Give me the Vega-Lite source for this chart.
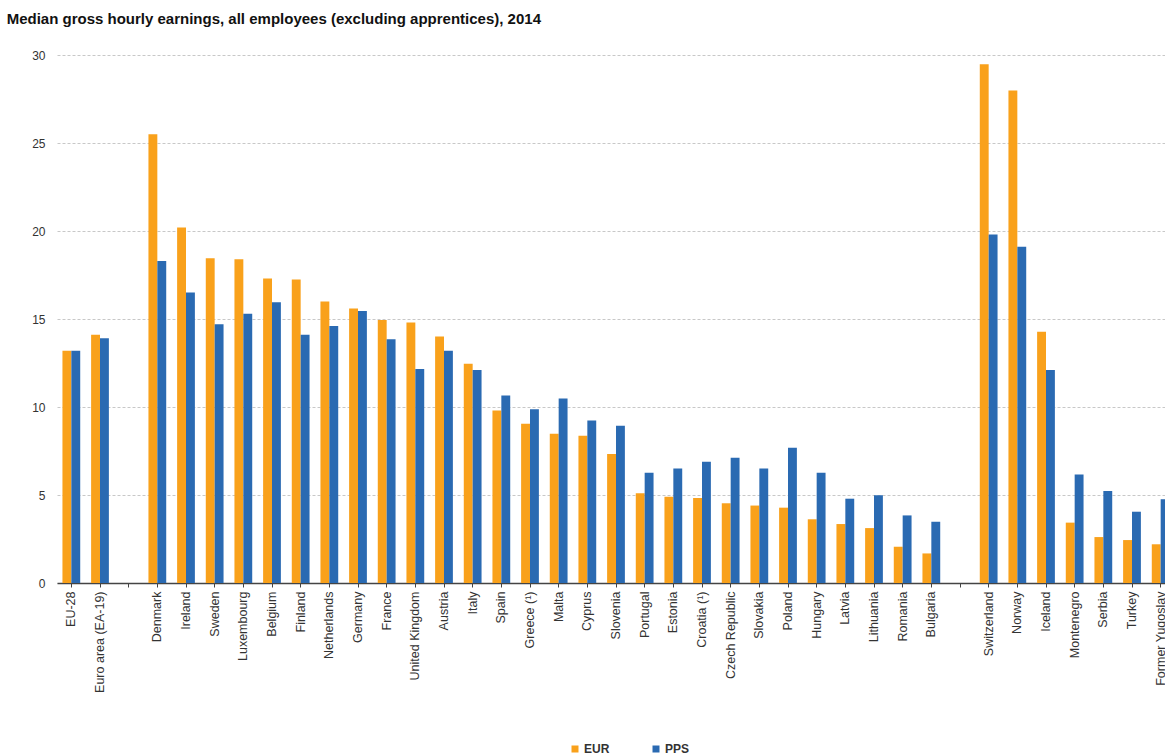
{
  "$schema": "https://vega.github.io/schema/vega-lite/v6.json",
  "autosize": {"type": "none"},
  "width": 1118,
  "height": 528,
  "padding": {"left": 57, "top": 55, "right": -10, "bottom": 170},
  "background": "white",
  "title": {
    "text": "Median gross hourly earnings, all employees (excluding apprentices), 2014",
    "anchor": "start",
    "dx": -25,
    "offset": 22,
    "font": "Liberation Sans",
    "fontSize": 15,
    "fontWeight": "bold",
    "color": "#111111"
  },
  "data": {
    "values": [
      {"country": "EU-28", "series": "EUR", "value": 13.2},
      {"country": "EU-28", "series": "PPS", "value": 13.2},
      {"country": "Euro area (EA-19)", "series": "EUR", "value": 14.1},
      {"country": "Euro area (EA-19)", "series": "PPS", "value": 13.9},
      {"country": "Denmark", "series": "EUR", "value": 25.5},
      {"country": "Denmark", "series": "PPS", "value": 18.3},
      {"country": "Ireland", "series": "EUR", "value": 20.2},
      {"country": "Ireland", "series": "PPS", "value": 16.5},
      {"country": "Sweden", "series": "EUR", "value": 18.45},
      {"country": "Sweden", "series": "PPS", "value": 14.7},
      {"country": "Luxembourg", "series": "EUR", "value": 18.4},
      {"country": "Luxembourg", "series": "PPS", "value": 15.3},
      {"country": "Belgium", "series": "EUR", "value": 17.3},
      {"country": "Belgium", "series": "PPS", "value": 15.95},
      {"country": "Finland", "series": "EUR", "value": 17.25},
      {"country": "Finland", "series": "PPS", "value": 14.1},
      {"country": "Netherlands", "series": "EUR", "value": 16.0},
      {"country": "Netherlands", "series": "PPS", "value": 14.6},
      {"country": "Germany", "series": "EUR", "value": 15.6},
      {"country": "Germany", "series": "PPS", "value": 15.45},
      {"country": "France", "series": "EUR", "value": 14.95},
      {"country": "France", "series": "PPS", "value": 13.85},
      {"country": "United Kingdom", "series": "EUR", "value": 14.8},
      {"country": "United Kingdom", "series": "PPS", "value": 12.16},
      {"country": "Austria", "series": "EUR", "value": 14.0},
      {"country": "Austria", "series": "PPS", "value": 13.2},
      {"country": "Italy", "series": "EUR", "value": 12.46},
      {"country": "Italy", "series": "PPS", "value": 12.1},
      {"country": "Spain", "series": "EUR", "value": 9.8},
      {"country": "Spain", "series": "PPS", "value": 10.66},
      {"country": "Greece (¹)", "series": "EUR", "value": 9.05},
      {"country": "Greece (¹)", "series": "PPS", "value": 9.87},
      {"country": "Malta", "series": "EUR", "value": 8.48},
      {"country": "Malta", "series": "PPS", "value": 10.49},
      {"country": "Cyprus", "series": "EUR", "value": 8.37},
      {"country": "Cyprus", "series": "PPS", "value": 9.24},
      {"country": "Slovenia", "series": "EUR", "value": 7.33},
      {"country": "Slovenia", "series": "PPS", "value": 8.94},
      {"country": "Portugal", "series": "EUR", "value": 5.1},
      {"country": "Portugal", "series": "PPS", "value": 6.27},
      {"country": "Estonia", "series": "EUR", "value": 4.9},
      {"country": "Estonia", "series": "PPS", "value": 6.51},
      {"country": "Croatia (¹)", "series": "EUR", "value": 4.83},
      {"country": "Croatia (¹)", "series": "PPS", "value": 6.89},
      {"country": "Czech Republic", "series": "EUR", "value": 4.53},
      {"country": "Czech Republic", "series": "PPS", "value": 7.12},
      {"country": "Slovakia", "series": "EUR", "value": 4.4},
      {"country": "Slovakia", "series": "PPS", "value": 6.51},
      {"country": "Poland", "series": "EUR", "value": 4.28},
      {"country": "Poland", "series": "PPS", "value": 7.69},
      {"country": "Hungary", "series": "EUR", "value": 3.62},
      {"country": "Hungary", "series": "PPS", "value": 6.27},
      {"country": "Latvia", "series": "EUR", "value": 3.35},
      {"country": "Latvia", "series": "PPS", "value": 4.79},
      {"country": "Lithuania", "series": "EUR", "value": 3.12},
      {"country": "Lithuania", "series": "PPS", "value": 4.98},
      {"country": "Romania", "series": "EUR", "value": 2.06},
      {"country": "Romania", "series": "PPS", "value": 3.84},
      {"country": "Bulgaria", "series": "EUR", "value": 1.68},
      {"country": "Bulgaria", "series": "PPS", "value": 3.48},
      {"country": "Switzerland", "series": "EUR", "value": 29.47},
      {"country": "Switzerland", "series": "PPS", "value": 19.8},
      {"country": "Norway", "series": "EUR", "value": 27.98},
      {"country": "Norway", "series": "PPS", "value": 19.1},
      {"country": "Iceland", "series": "EUR", "value": 14.28},
      {"country": "Iceland", "series": "PPS", "value": 12.1},
      {"country": "Montenegro", "series": "EUR", "value": 3.43},
      {"country": "Montenegro", "series": "PPS", "value": 6.17},
      {"country": "Serbia", "series": "EUR", "value": 2.61},
      {"country": "Serbia", "series": "PPS", "value": 5.23},
      {"country": "Turkey", "series": "EUR", "value": 2.44},
      {"country": "Turkey", "series": "PPS", "value": 4.05},
      {"country": "Former Yugoslav Republic of Macedonia", "series": "EUR", "value": 2.2},
      {"country": "Former Yugoslav Republic of Macedonia", "series": "PPS", "value": 4.76}
    ]
  },
  "mark": {"type": "bar"},
  "encoding": {
    "x": {
      "field": "country",
      "type": "nominal",
      "sort": null,
      "title": null,
      "scale": {
        "domain": ["EU-28", "Euro area (EA-19)", "gap1", "Denmark", "Ireland", "Sweden", "Luxembourg", "Belgium", "Finland", "Netherlands", "Germany", "France", "United Kingdom", "Austria", "Italy", "Spain", "Greece (¹)", "Malta", "Cyprus", "Slovenia", "Portugal", "Estonia", "Croatia (¹)", "Czech Republic", "Slovakia", "Poland", "Hungary", "Latvia", "Lithuania", "Romania", "Bulgaria", "gap2", "Switzerland", "Norway", "Iceland", "Montenegro", "Serbia", "Turkey", "Former Yugoslav Republic of Macedonia"],
        "paddingInner": 0.38,
        "paddingOuter": 0.19
      },
      "axis": {
        "labelAngle": -90,
        "labelExpr": "datum.value === 'Former Yugoslav Republic of Macedonia' ? ['Former Yugoslav', 'Republic of Macedonia'] : (indexof(datum.value, 'gap') === 0 ? '' : datum.value)",
        "labelFont": "Liberation Sans",
        "labelFontSize": 12.5,
        "labelColor": "#333333",
        "labelLimit": 400,
        "labelPadding": 4,
        "tickSize": 4,
        "tickColor": "#444444",
        "domainColor": "#444444",
        "domainWidth": 1.5
      }
    },
    "xOffset": {"field": "series", "type": "nominal"},
    "y": {
      "field": "value",
      "type": "quantitative",
      "title": null,
      "scale": {"domain": [0, 30]},
      "axis": {
        "tickCount": 6,
        "domain": false,
        "ticks": false,
        "labelPadding": 12,
        "labelFont": "Liberation Sans",
        "labelFontSize": 12,
        "labelColor": "#333333",
        "gridColor": "#c8c8c8",
        "gridDash": [3, 2]
      }
    },
    "color": {
      "field": "series",
      "type": "nominal",
      "scale": {"domain": ["EUR", "PPS"], "range": ["#F9A11B", "#2A6AB2"]},
      "legend": {
        "title": " ",
        "titleOrient": "left",
        "titlePadding": 512,
        "orient": "bottom",
        "direction": "horizontal",
        "offset": 24,
        "padding": 0,
        "symbolType": "square",
        "symbolSize": 49,
        "labelFont": "Liberation Sans",
        "labelFontSize": 12,
        "labelFontWeight": "bold",
        "labelColor": "#333333",
        "labelOffset": 3,
        "columnPadding": 40
      }
    }
  },
  "config": {
    "view": {"stroke": null}
  }
}
